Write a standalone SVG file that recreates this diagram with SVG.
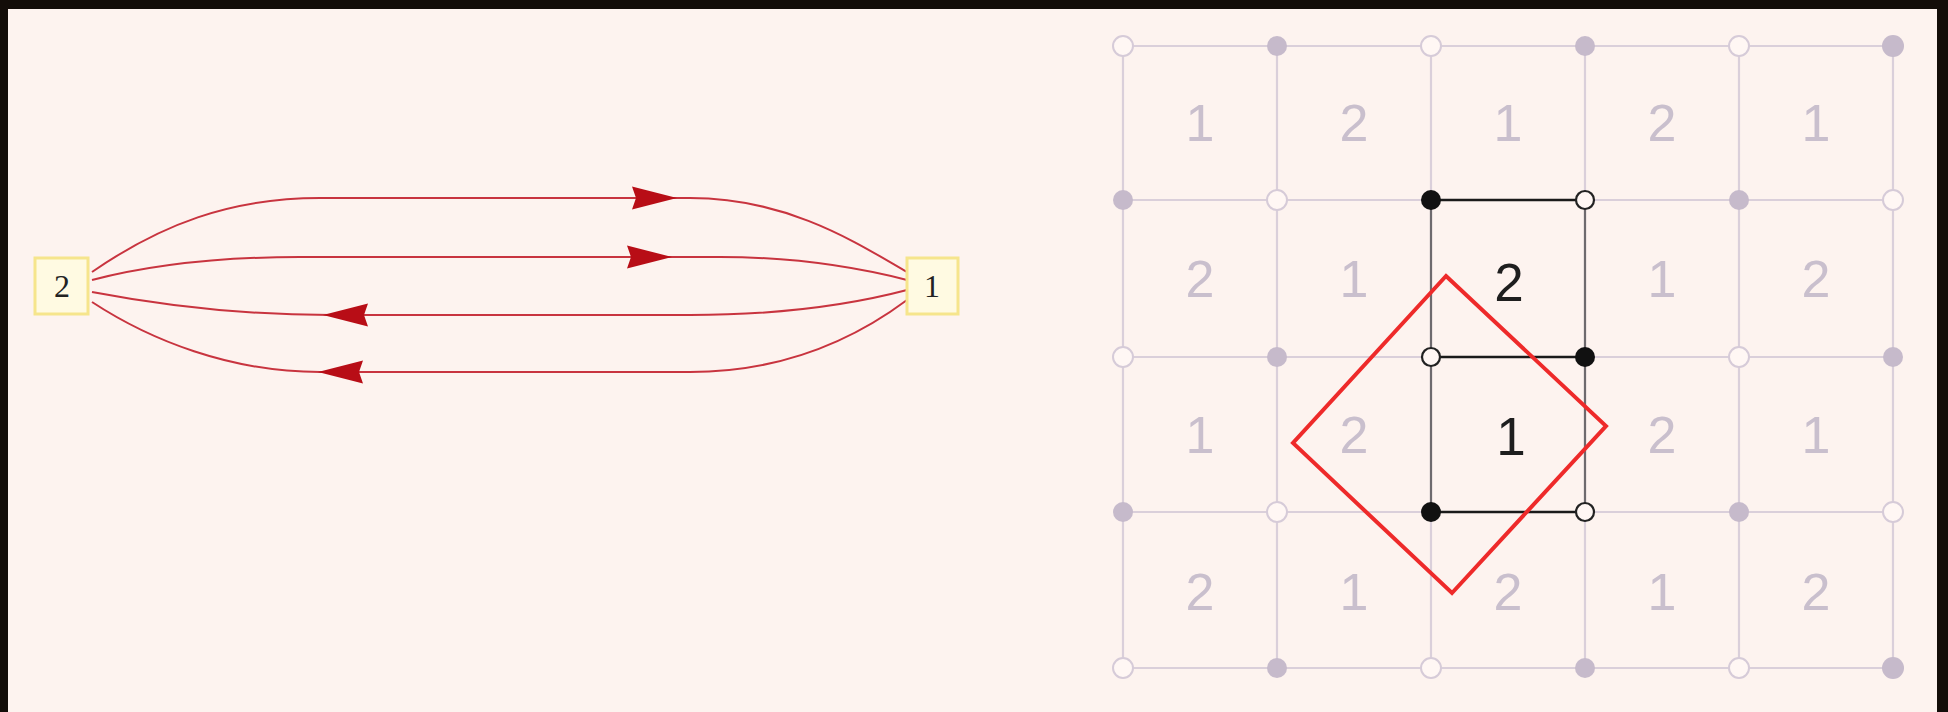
<svg xmlns="http://www.w3.org/2000/svg" xmlns:xlink="http://www.w3.org/1999/xlink" width="1948" height="712" viewBox="0 0 1948 712">
<style>
.edge{fill:none;stroke:#c8343f;stroke-width:2}
.ah{fill:#b80d16}
.gbox{fill:#fffae2;stroke:#f6e58c;stroke-width:3}
.gtxt{font-family:"Liberation Serif",serif;font-size:32px;fill:#222;text-anchor:middle}
.gl{stroke:#dacfda;stroke-width:2.2}
.nf{fill:#c6bacb}
.no{fill:#fff7f4;stroke:#d6cbd8;stroke-width:2}
.nb{fill:#111}
.nbo{fill:#fff7f4;stroke:#222;stroke-width:2.2}
.lt{font-family:"Liberation Sans",Arial,sans-serif;font-size:52px;fill:#c9bfcd;text-anchor:middle}
.dk{font-family:"Liberation Sans",Arial,sans-serif;font-size:53px;fill:#1e1e1e;text-anchor:middle}
</style>
<defs>
<path id="ahp" d="M0 0 L-45 -11.5 L-41 0 L-45 11.5 Z"/>
</defs>
<rect width="1948" height="712" fill="#fdf3ef"/>
<!-- frame -->
<rect x="0" y="0" width="1948" height="9" fill="#130d09"/>
<rect x="0" y="0" width="8" height="712" fill="#130d09"/>
<rect x="1937" y="0" width="11" height="712" fill="#130d09"/>

<!-- connectors -->
<g id="connectors">
<path class="edge" d="M92 272 C160 225,230 198,320 198 L690 198 C790 198,860 245,907 272"/>
<path class="edge" d="M92 280 C150 265,220 257,300 257 L720 257 C800 257,860 268,907 280"/>
<path class="edge" d="M907 290 C850 305,780 315,690 315 L330 315 C240 315,160 305,92 292"/>
<path class="edge" d="M907 300 C860 335,790 372,690 372 L320 372 C230 372,150 340,92 302"/>
<use xlink:href="#ahp" class="ah" transform="translate(677,198)"/>
<use xlink:href="#ahp" class="ah" transform="translate(672,257)"/>
<use xlink:href="#ahp" class="ah" transform="translate(323,315) rotate(180)"/>
<use xlink:href="#ahp" class="ah" transform="translate(318,372) rotate(180)"/>
</g>

<g id="node2">
<rect class="gbox" x="35" y="258" width="53" height="56"/>
<text class="gtxt" x="62" y="297">2</text>
</g>
<g id="node1">
<rect class="gbox" x="907" y="258" width="51" height="56"/>
<text class="gtxt" x="932" y="297">1</text>
</g>

<!-- lattice -->
<g id="grid">
<line class="gl" x1="1123" y1="46" x2="1893" y2="46"/>
<line class="gl" x1="1123" y1="200" x2="1893" y2="200"/>
<line class="gl" x1="1123" y1="357" x2="1893" y2="357"/>
<line class="gl" x1="1123" y1="512" x2="1893" y2="512"/>
<line class="gl" x1="1123" y1="668" x2="1893" y2="668"/>
<line class="gl" x1="1123" y1="46" x2="1123" y2="668"/>
<line class="gl" x1="1277" y1="46" x2="1277" y2="668"/>
<line class="gl" x1="1431" y1="46" x2="1431" y2="668"/>
<line class="gl" x1="1585" y1="46" x2="1585" y2="668"/>
<line class="gl" x1="1739" y1="46" x2="1739" y2="668"/>
<line class="gl" x1="1893" y1="46" x2="1893" y2="668"/>
</g>

<g id="cell-labels">
<text class="lt" x="1200" y="141">1</text>
<text class="lt" x="1354" y="141">2</text>
<text class="lt" x="1508" y="141">1</text>
<text class="lt" x="1662" y="141">2</text>
<text class="lt" x="1816" y="141">1</text>
<text class="lt" x="1200" y="297">2</text>
<text class="lt" x="1354" y="297">1</text>
<text class="lt" x="1662" y="297">1</text>
<text class="lt" x="1816" y="297">2</text>
<text class="lt" x="1200" y="453">1</text>
<text class="lt" x="1354" y="453">2</text>
<text class="lt" x="1662" y="453">2</text>
<text class="lt" x="1816" y="453">1</text>
<text class="lt" x="1200" y="610">2</text>
<text class="lt" x="1354" y="610">1</text>
<text class="lt" x="1508" y="610">2</text>
<text class="lt" x="1662" y="610">1</text>
<text class="lt" x="1816" y="610">2</text>
</g>

<g id="cell-block">
<line x1="1431" y1="200" x2="1431" y2="512" stroke="#6e6a6e" stroke-width="2.2"/>
<line x1="1585" y1="200" x2="1585" y2="512" stroke="#6e6a6e" stroke-width="2.2"/>
<line x1="1431" y1="200" x2="1585" y2="200" stroke="#1a1a1a" stroke-width="2.4"/>
<line x1="1431" y1="357" x2="1585" y2="357" stroke="#1a1a1a" stroke-width="2.4"/>
<line x1="1431" y1="512" x2="1585" y2="512" stroke="#1a1a1a" stroke-width="2.4"/>
<text class="dk" x="1509" y="301">2</text>
<text class="dk" x="1511" y="455">1</text>
</g>

<g id="vertices">
<circle class="no" cx="1123" cy="46" r="10"/>
<circle class="nf" cx="1277" cy="46" r="10"/>
<circle class="no" cx="1431" cy="46" r="10"/>
<circle class="nf" cx="1585" cy="46" r="10"/>
<circle class="no" cx="1739" cy="46" r="10"/>
<circle class="nf" cx="1893" cy="46" r="11"/>
<circle class="nf" cx="1123" cy="200" r="10"/>
<circle class="no" cx="1277" cy="200" r="10"/>
<circle class="nb" cx="1431" cy="200" r="10"/>
<circle class="nbo" cx="1585" cy="200" r="9"/>
<circle class="nf" cx="1739" cy="200" r="10"/>
<circle class="no" cx="1893" cy="200" r="10"/>
<circle class="no" cx="1123" cy="357" r="10"/>
<circle class="nf" cx="1277" cy="357" r="10"/>
<circle class="nbo" cx="1431" cy="357" r="9"/>
<circle class="nb" cx="1585" cy="357" r="10"/>
<circle class="no" cx="1739" cy="357" r="10"/>
<circle class="nf" cx="1893" cy="357" r="10"/>
<circle class="nf" cx="1123" cy="512" r="10"/>
<circle class="no" cx="1277" cy="512" r="10"/>
<circle class="nb" cx="1431" cy="512" r="10"/>
<circle class="nbo" cx="1585" cy="512" r="9"/>
<circle class="nf" cx="1739" cy="512" r="10"/>
<circle class="no" cx="1893" cy="512" r="10"/>
<circle class="no" cx="1123" cy="668" r="10"/>
<circle class="nf" cx="1277" cy="668" r="10"/>
<circle class="no" cx="1431" cy="668" r="10"/>
<circle class="nf" cx="1585" cy="668" r="10"/>
<circle class="no" cx="1739" cy="668" r="10"/>
<circle class="nf" cx="1893" cy="668" r="11"/>
</g>

<g id="diamond">
<polygon points="1446,276 1606,426 1452,593 1293,443" fill="none" stroke="#ee2a2a" stroke-width="4"/>
</g>
</svg>
